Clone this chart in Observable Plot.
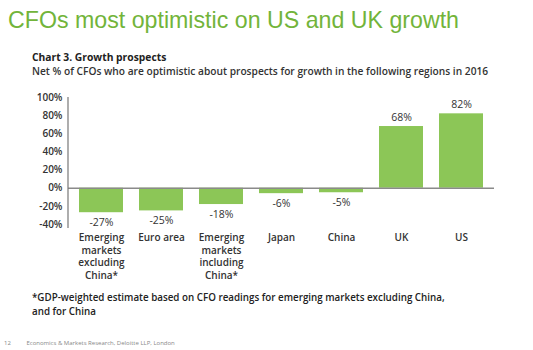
<!DOCTYPE html>
<html>
<head>
<meta charset="utf-8">
<script src="https://cdn.jsdelivr.net/npm/d3@7"></script>
<script src="https://cdn.jsdelivr.net/npm/@observablehq/plot@0.6"></script>
<style>
  html, body { margin: 0; padding: 0; background: #fff; }
  #wrap { position: relative; width: 533px; height: 350px; overflow: hidden; font-family: "Open Sans", sans-serif; color: #333; }
  #chart { position: absolute; left: 0; top: 0; }
  .t { position: absolute; white-space: nowrap; }
  #title { left: 8px; top: 7px; font-family: "Liberation Sans", Arial, sans-serif; font-size: 23.2px; line-height: 27px; color: #72b43a; }
  #sub1 { left: 32px; top: 50px; font-size: 10.3px; line-height: 14px; font-weight: 700; color: #222; }
  #sub2 { left: 32px; top: 64px; font-size: 10.2px; line-height: 14px; font-weight: 600; color: #333; }
  #note { left: 32px; top: 291px; font-size: 9.8px; font-weight: 600; color: #222; line-height: 14px; }
  #footer { left: 4px; top: 339px; font-size: 6px; color: #888; }
</style>
</head>
<body>
<div id="wrap">
  <div id="chart"></div>
  <div class="t" id="title">CFOs most optimistic on US and UK growth</div>
  <div class="t" id="sub1">Chart 3. Growth prospects</div>
  <div class="t" id="sub2">Net % of CFOs who are optimistic about prospects for growth in the following regions in 2016</div>
  <div class="t" id="note">*GDP-weighted estimate based on CFO readings for emerging markets excluding China,<br>and for China</div>
  <div class="t" id="footer">12&nbsp;&nbsp;&nbsp;&nbsp;&nbsp;&nbsp;&nbsp;&nbsp;&nbsp;&nbsp;Economics &amp; Markets Research, Deloitte LLP, London</div>
</div>
<script>
const categories = [
  "Emerging\nmarkets\nexcluding\nChina*",
  "Euro area",
  "Emerging\nmarkets\nincluding\nChina*",
  "Japan",
  "China",
  "UK",
  "US"
];
const values = [-27, -25, -18, -6, -5, 68, 82];
const yTicks = [-40, -20, 0, 20, 40, 60, 80, 100];

const data = categories.map((c, i) => ({category: c, value: values[i]}));
const pos = data.filter(d => d.value >= 0);
const neg = data.filter(d => d.value < 0);

const plot = Plot.plot({
  width: 533,
  height: 350,
  marginTop: 97,
  marginBottom: 126,
  marginLeft: 68,
  marginRight: 39,
  style: {fontFamily: "Open Sans, sans-serif", color: "#333", background: "transparent"},
  x: {domain: categories, paddingInner: 0.275, paddingOuter: 0.15, label: null},
  y: {domain: [-40, 100], label: null},
  marks: [
    Plot.barY(data, {x: "category", y: "value", fill: "#8cc657"}),
    Plot.ruleY([0], {stroke: "#8a8a8a", strokeWidth: 1.5}),
    Plot.axisY({ticks: yTicks, tickSize: 0, tickPadding: 6, tickFormat: d => d + "%", fontSize: 10, fontWeight: 600, fill: "#333", label: null}),
    Plot.axisX({tickSize: 0, tickPadding: 8, fontSize: 10, fontWeight: 600, fill: "#333", lineHeight: 1.25, lineAnchor: "top", label: null}),
    Plot.text(pos, {x: "category", y: "value", text: d => d.value + "%", dy: -9, fontSize: 10.5, fill: "#333"}),
    Plot.text(neg, {x: "category", y: "value", text: d => d.value + "%", dy: 10, fontSize: 10.5, fill: "#333"})
  ]
});
document.getElementById("chart").appendChild(plot);

// vertical axis line positioned through the y scale
const ys = plot.scale("y");
d3.select(plot).append("line")
  .attr("x1", 68).attr("x2", 68)
  .attr("y1", ys.apply(100)).attr("y2", ys.apply(-40) + 4)
  .attr("stroke", "#777").attr("stroke-width", 1.2);
</script>
</body>
</html>
